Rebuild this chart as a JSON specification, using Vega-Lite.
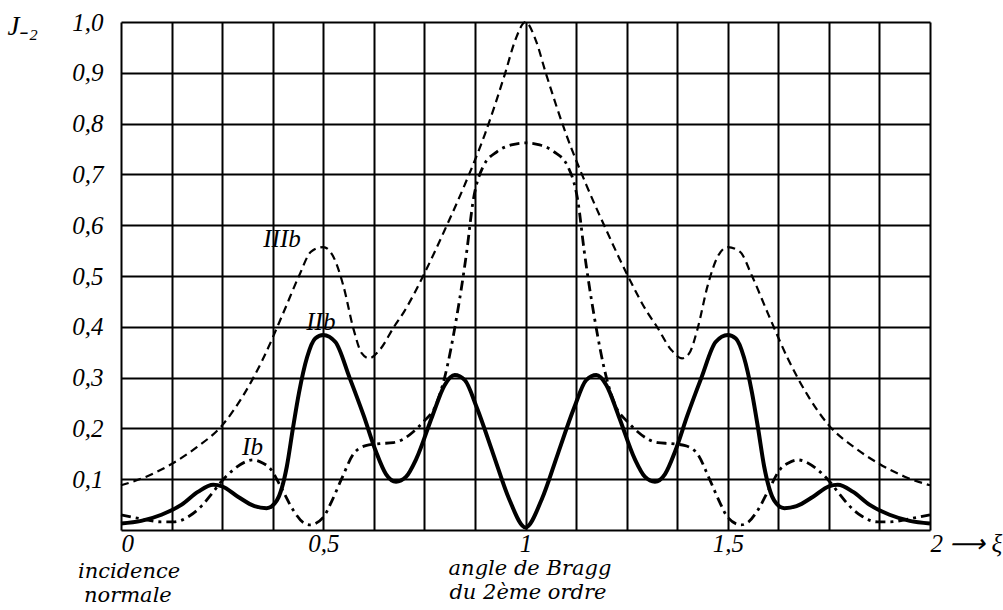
{
  "$schema": "https://vega.github.io/schema/vega-lite/v6.json",
  "width": 809,
  "height": 508,
  "autosize": "none",
  "padding": {"left": 121, "top": 22, "right": 73, "bottom": 80},
  "background": "white",
  "config": {
    "view": {"stroke": null},
    "axis": {
      "domain": false,
      "ticks": false,
      "tickSize": 0,
      "grid": true,
      "gridColor": "#000000",
      "gridWidth": 2,
      "gridOpacity": 1,
      "labelColor": "#000000",
      "labelFont": "Liberation Serif",
      "labelFontStyle": "italic",
      "labelFontSize": 25,
      "labelOverlap": false,
      "labelBound": false,
      "labelFlush": false
    }
  },
  "datasets": {
    "curves": [
      {"curve": "IIIb", "x": 0, "y": 0.088},
      {"curve": "IIIb", "x": 0.0625, "y": 0.105},
      {"curve": "IIIb", "x": 0.125, "y": 0.13},
      {"curve": "IIIb", "x": 0.1875, "y": 0.163},
      {"curve": "IIIb", "x": 0.25, "y": 0.206},
      {"curve": "IIIb", "x": 0.3, "y": 0.262},
      {"curve": "IIIb", "x": 0.35, "y": 0.335},
      {"curve": "IIIb", "x": 0.4, "y": 0.425},
      {"curve": "IIIb", "x": 0.44, "y": 0.5},
      {"curve": "IIIb", "x": 0.47, "y": 0.548},
      {"curve": "IIIb", "x": 0.5, "y": 0.557},
      {"curve": "IIIb", "x": 0.525, "y": 0.538},
      {"curve": "IIIb", "x": 0.55, "y": 0.48},
      {"curve": "IIIb", "x": 0.575, "y": 0.395},
      {"curve": "IIIb", "x": 0.595, "y": 0.348},
      {"curve": "IIIb", "x": 0.613, "y": 0.338},
      {"curve": "IIIb", "x": 0.64, "y": 0.355},
      {"curve": "IIIb", "x": 0.675, "y": 0.4},
      {"curve": "IIIb", "x": 0.7, "y": 0.43},
      {"curve": "IIIb", "x": 0.75, "y": 0.505},
      {"curve": "IIIb", "x": 0.8, "y": 0.59},
      {"curve": "IIIb", "x": 0.85, "y": 0.68},
      {"curve": "IIIb", "x": 0.9, "y": 0.78},
      {"curve": "IIIb", "x": 0.95, "y": 0.9},
      {"curve": "IIIb", "x": 0.975, "y": 0.965},
      {"curve": "IIIb", "x": 1.0, "y": 1.0},
      {"curve": "IIIb", "x": 1.025, "y": 0.965},
      {"curve": "IIIb", "x": 1.05, "y": 0.9},
      {"curve": "IIIb", "x": 1.1, "y": 0.78},
      {"curve": "IIIb", "x": 1.15, "y": 0.68},
      {"curve": "IIIb", "x": 1.2, "y": 0.59},
      {"curve": "IIIb", "x": 1.25, "y": 0.505},
      {"curve": "IIIb", "x": 1.3, "y": 0.43},
      {"curve": "IIIb", "x": 1.325, "y": 0.4},
      {"curve": "IIIb", "x": 1.36, "y": 0.355},
      {"curve": "IIIb", "x": 1.387, "y": 0.338},
      {"curve": "IIIb", "x": 1.405, "y": 0.348},
      {"curve": "IIIb", "x": 1.425, "y": 0.395},
      {"curve": "IIIb", "x": 1.45, "y": 0.48},
      {"curve": "IIIb", "x": 1.475, "y": 0.538},
      {"curve": "IIIb", "x": 1.5, "y": 0.557},
      {"curve": "IIIb", "x": 1.53, "y": 0.548},
      {"curve": "IIIb", "x": 1.56, "y": 0.5},
      {"curve": "IIIb", "x": 1.6, "y": 0.425},
      {"curve": "IIIb", "x": 1.65, "y": 0.335},
      {"curve": "IIIb", "x": 1.7, "y": 0.262},
      {"curve": "IIIb", "x": 1.75, "y": 0.206},
      {"curve": "IIIb", "x": 1.8125, "y": 0.163},
      {"curve": "IIIb", "x": 1.875, "y": 0.13},
      {"curve": "IIIb", "x": 1.9375, "y": 0.105},
      {"curve": "IIIb", "x": 2, "y": 0.088},

      {"curve": "IIb", "x": 0, "y": 0.013},
      {"curve": "IIb", "x": 0.05, "y": 0.018},
      {"curve": "IIb", "x": 0.1, "y": 0.03},
      {"curve": "IIb", "x": 0.15, "y": 0.05},
      {"curve": "IIb", "x": 0.19, "y": 0.075},
      {"curve": "IIb", "x": 0.228, "y": 0.089},
      {"curve": "IIb", "x": 0.25, "y": 0.086},
      {"curve": "IIb", "x": 0.29, "y": 0.065},
      {"curve": "IIb", "x": 0.33, "y": 0.047},
      {"curve": "IIb", "x": 0.36, "y": 0.043},
      {"curve": "IIb", "x": 0.385, "y": 0.058},
      {"curve": "IIb", "x": 0.41, "y": 0.125},
      {"curve": "IIb", "x": 0.425, "y": 0.2},
      {"curve": "IIb", "x": 0.44, "y": 0.27},
      {"curve": "IIb", "x": 0.46, "y": 0.34},
      {"curve": "IIb", "x": 0.48, "y": 0.377},
      {"curve": "IIb", "x": 0.5, "y": 0.384},
      {"curve": "IIb", "x": 0.53, "y": 0.37},
      {"curve": "IIb", "x": 0.565, "y": 0.3},
      {"curve": "IIb", "x": 0.6, "y": 0.225},
      {"curve": "IIb", "x": 0.63, "y": 0.155},
      {"curve": "IIb", "x": 0.655, "y": 0.11},
      {"curve": "IIb", "x": 0.68, "y": 0.095},
      {"curve": "IIb", "x": 0.705, "y": 0.105},
      {"curve": "IIb", "x": 0.73, "y": 0.14},
      {"curve": "IIb", "x": 0.77, "y": 0.225},
      {"curve": "IIb", "x": 0.8, "y": 0.285},
      {"curve": "IIb", "x": 0.825, "y": 0.305},
      {"curve": "IIb", "x": 0.85, "y": 0.295},
      {"curve": "IIb", "x": 0.88, "y": 0.24},
      {"curve": "IIb", "x": 0.92, "y": 0.15},
      {"curve": "IIb", "x": 0.96, "y": 0.06},
      {"curve": "IIb", "x": 1.0, "y": 0.005},
      {"curve": "IIb", "x": 1.04, "y": 0.06},
      {"curve": "IIb", "x": 1.08, "y": 0.15},
      {"curve": "IIb", "x": 1.12, "y": 0.24},
      {"curve": "IIb", "x": 1.15, "y": 0.295},
      {"curve": "IIb", "x": 1.175, "y": 0.305},
      {"curve": "IIb", "x": 1.2, "y": 0.285},
      {"curve": "IIb", "x": 1.23, "y": 0.225},
      {"curve": "IIb", "x": 1.27, "y": 0.14},
      {"curve": "IIb", "x": 1.295, "y": 0.105},
      {"curve": "IIb", "x": 1.32, "y": 0.095},
      {"curve": "IIb", "x": 1.345, "y": 0.11},
      {"curve": "IIb", "x": 1.37, "y": 0.155},
      {"curve": "IIb", "x": 1.4, "y": 0.225},
      {"curve": "IIb", "x": 1.435, "y": 0.3},
      {"curve": "IIb", "x": 1.47, "y": 0.37},
      {"curve": "IIb", "x": 1.5, "y": 0.384},
      {"curve": "IIb", "x": 1.52, "y": 0.377},
      {"curve": "IIb", "x": 1.54, "y": 0.34},
      {"curve": "IIb", "x": 1.56, "y": 0.27},
      {"curve": "IIb", "x": 1.575, "y": 0.2},
      {"curve": "IIb", "x": 1.59, "y": 0.125},
      {"curve": "IIb", "x": 1.615, "y": 0.058},
      {"curve": "IIb", "x": 1.64, "y": 0.043},
      {"curve": "IIb", "x": 1.67, "y": 0.047},
      {"curve": "IIb", "x": 1.71, "y": 0.065},
      {"curve": "IIb", "x": 1.75, "y": 0.086},
      {"curve": "IIb", "x": 1.772, "y": 0.089},
      {"curve": "IIb", "x": 1.81, "y": 0.075},
      {"curve": "IIb", "x": 1.85, "y": 0.05},
      {"curve": "IIb", "x": 1.9, "y": 0.03},
      {"curve": "IIb", "x": 1.95, "y": 0.018},
      {"curve": "IIb", "x": 2, "y": 0.013},

      {"curve": "Ib", "x": 0, "y": 0.03},
      {"curve": "Ib", "x": 0.05, "y": 0.022},
      {"curve": "Ib", "x": 0.1, "y": 0.016},
      {"curve": "Ib", "x": 0.13, "y": 0.016},
      {"curve": "Ib", "x": 0.17, "y": 0.028},
      {"curve": "Ib", "x": 0.2, "y": 0.048},
      {"curve": "Ib", "x": 0.225, "y": 0.072},
      {"curve": "Ib", "x": 0.25, "y": 0.097},
      {"curve": "Ib", "x": 0.28, "y": 0.12},
      {"curve": "Ib", "x": 0.31, "y": 0.135},
      {"curve": "Ib", "x": 0.327, "y": 0.138},
      {"curve": "Ib", "x": 0.35, "y": 0.132},
      {"curve": "Ib", "x": 0.37, "y": 0.12},
      {"curve": "Ib", "x": 0.395, "y": 0.085},
      {"curve": "Ib", "x": 0.425, "y": 0.04},
      {"curve": "Ib", "x": 0.45, "y": 0.015},
      {"curve": "Ib", "x": 0.467, "y": 0.01},
      {"curve": "Ib", "x": 0.5, "y": 0.025},
      {"curve": "Ib", "x": 0.52, "y": 0.055},
      {"curve": "Ib", "x": 0.545, "y": 0.1},
      {"curve": "Ib", "x": 0.575, "y": 0.15},
      {"curve": "Ib", "x": 0.605, "y": 0.166},
      {"curve": "Ib", "x": 0.64, "y": 0.17},
      {"curve": "Ib", "x": 0.673, "y": 0.172},
      {"curve": "Ib", "x": 0.7, "y": 0.18},
      {"curve": "Ib", "x": 0.722, "y": 0.193},
      {"curve": "Ib", "x": 0.75, "y": 0.215},
      {"curve": "Ib", "x": 0.775, "y": 0.24},
      {"curve": "Ib", "x": 0.8, "y": 0.3},
      {"curve": "Ib", "x": 0.83, "y": 0.42},
      {"curve": "Ib", "x": 0.855, "y": 0.55},
      {"curve": "Ib", "x": 0.87, "y": 0.645},
      {"curve": "Ib", "x": 0.895, "y": 0.715},
      {"curve": "Ib", "x": 0.93, "y": 0.745},
      {"curve": "Ib", "x": 0.965, "y": 0.758},
      {"curve": "Ib", "x": 1.0, "y": 0.762},
      {"curve": "Ib", "x": 1.035, "y": 0.758},
      {"curve": "Ib", "x": 1.07, "y": 0.745},
      {"curve": "Ib", "x": 1.105, "y": 0.715},
      {"curve": "Ib", "x": 1.13, "y": 0.645},
      {"curve": "Ib", "x": 1.145, "y": 0.55},
      {"curve": "Ib", "x": 1.17, "y": 0.42},
      {"curve": "Ib", "x": 1.2, "y": 0.3},
      {"curve": "Ib", "x": 1.225, "y": 0.24},
      {"curve": "Ib", "x": 1.25, "y": 0.215},
      {"curve": "Ib", "x": 1.278, "y": 0.193},
      {"curve": "Ib", "x": 1.3, "y": 0.18},
      {"curve": "Ib", "x": 1.327, "y": 0.172},
      {"curve": "Ib", "x": 1.36, "y": 0.17},
      {"curve": "Ib", "x": 1.395, "y": 0.166},
      {"curve": "Ib", "x": 1.425, "y": 0.15},
      {"curve": "Ib", "x": 1.455, "y": 0.1},
      {"curve": "Ib", "x": 1.48, "y": 0.055},
      {"curve": "Ib", "x": 1.5, "y": 0.025},
      {"curve": "Ib", "x": 1.533, "y": 0.01},
      {"curve": "Ib", "x": 1.55, "y": 0.015},
      {"curve": "Ib", "x": 1.575, "y": 0.04},
      {"curve": "Ib", "x": 1.605, "y": 0.085},
      {"curve": "Ib", "x": 1.63, "y": 0.12},
      {"curve": "Ib", "x": 1.65, "y": 0.132},
      {"curve": "Ib", "x": 1.673, "y": 0.138},
      {"curve": "Ib", "x": 1.69, "y": 0.135},
      {"curve": "Ib", "x": 1.72, "y": 0.12},
      {"curve": "Ib", "x": 1.75, "y": 0.097},
      {"curve": "Ib", "x": 1.775, "y": 0.072},
      {"curve": "Ib", "x": 1.8, "y": 0.048},
      {"curve": "Ib", "x": 1.83, "y": 0.028},
      {"curve": "Ib", "x": 1.87, "y": 0.016},
      {"curve": "Ib", "x": 1.9, "y": 0.016},
      {"curve": "Ib", "x": 1.95, "y": 0.022},
      {"curve": "Ib", "x": 2, "y": 0.03}
    ],
    "curveLabels": [
      {"x": 0.398, "y": 0.573, "t": "IIIb"},
      {"x": 0.494, "y": 0.41, "t": "IIb"},
      {"x": 0.325, "y": 0.164, "t": "Ib"}
    ],
    "notes": [
      {"x": 0.02, "y": -0.083, "t": "incidence"},
      {"x": 0.017, "y": -0.13, "t": "normale"},
      {"x": 1.011, "y": -0.076, "t": "angle de Bragg"},
      {"x": 1.006, "y": -0.124, "t": "du 2ème ordre"}
    ]
  },
  "encoding": {
    "x": {
      "field": "x",
      "type": "quantitative",
      "scale": {"domain": [0, 2], "nice": false, "zero": false},
      "axis": {
        "title": null,
        "values": [0, 0.125, 0.25, 0.375, 0.5, 0.625, 0.75, 0.875, 1, 1.125, 1.25, 1.375, 1.5, 1.625, 1.75, 1.875, 2],
        "labelExpr": "datum.value == 0 ? '0' : datum.value == 0.5 ? '0,5' : datum.value == 1 ? '1' : datum.value == 1.5 ? '1,5' : datum.value == 2 ? '2 ⟶ ξ' : ''",
        "labelAlign": {"condition": {"test": "datum.value == 0 || datum.value == 2", "value": "left"}, "value": "center"},
        "labelPadding": 1
      }
    },
    "y": {
      "field": "y",
      "type": "quantitative",
      "scale": {"domain": [0, 1], "nice": false, "zero": false},
      "axis": {
        "values": [0, 0.1, 0.2, 0.3, 0.4, 0.5, 0.6, 0.7, 0.8, 0.9, 1],
        "labelExpr": "datum.value == 0 ? '' : replace(format(datum.value, '.1f'), '.', ',')",
        "labelPadding": 18,
        "title": "J₋₂",
        "titleAngle": 0,
        "titleAlign": "left",
        "titleBaseline": "alphabetic",
        "titleX": -114,
        "titleY": 12,
        "titleFont": "Liberation Serif",
        "titleFontStyle": "italic",
        "titleFontWeight": "normal",
        "titleFontSize": 27,
        "titleColor": "#000000"
      }
    }
  },
  "layer": [
    {
      "data": {"name": "curves"},
      "transform": [{"filter": "datum.curve == 'IIIb'"}],
      "mark": {"type": "line", "interpolate": "monotone", "color": "#000000", "strokeWidth": 2.2, "strokeDash": [8, 5]}
    },
    {
      "data": {"name": "curves"},
      "transform": [{"filter": "datum.curve == 'Ib'"}],
      "mark": {"type": "line", "interpolate": "monotone", "color": "#000000", "strokeWidth": 2.8, "strokeDash": [10, 5, 3, 5]}
    },
    {
      "data": {"name": "curves"},
      "transform": [{"filter": "datum.curve == 'IIb'"}],
      "mark": {"type": "line", "interpolate": "monotone", "color": "#000000", "strokeWidth": 4}
    },
    {
      "data": {"name": "curveLabels"},
      "mark": {"type": "text", "font": "Liberation Serif", "fontStyle": "italic", "fontSize": 25, "color": "#000000", "align": "center", "baseline": "middle"},
      "encoding": {"text": {"field": "t"}}
    },
    {
      "data": {"name": "notes"},
      "mark": {"type": "text", "font": "DejaVu Serif", "fontStyle": "italic", "fontSize": 21, "color": "#000000", "align": "center", "baseline": "middle"},
      "encoding": {"text": {"field": "t"}}
    }
  ]
}
